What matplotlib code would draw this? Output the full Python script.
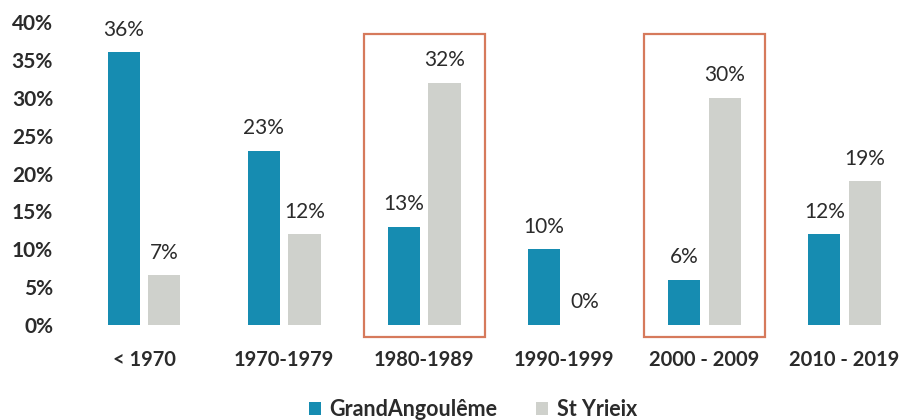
import matplotlib
matplotlib.use("Agg")
import numpy as np
from matplotlib import pyplot as plt
from matplotlib.patches import Rectangle

# data
periods = ["< 1970", "1970-1979", "1980-1989", "1990-1999", "2000 - 2009", "2010 - 2019"]
grand_angouleme = [36, 23, 13, 10, 6, 12]
st_yrieix = [6.6, 12, 32, 0, 30, 19]
series_names = ["GrandAngoulême", "St Yrieix"]
highlighted = ["1980-1989", "2000 - 2009"]
yticks = [0, 5, 10, 15, 20, 25, 30, 35, 40]

teal = "#168cb1"
grey = "#cfd1cc"
box_col = "#d67a5c"
txt = "#2b2b2b"

plt.rcParams['font.family'] = ['Lato', 'DejaVu Sans']

fig = plt.figure(figsize=(9.03, 4.2), dpi=100)
ax = fig.add_axes([60/903, 1-325/420, (895-60)/903, (325-22)/420])

x = np.arange(len(periods))
w = 0.23
off = 0.145
b1 = ax.bar(x - off, grand_angouleme, w, color=teal, label=series_names[0])
b2 = ax.bar(x + off, st_yrieix, w, color=grey, label=series_names[1])

for bars, vals in [(b1, grand_angouleme), (b2, st_yrieix)]:
    for r, v in zip(bars, vals):
        ax.annotate(f"{v:.0f}%", (r.get_x() + r.get_width()/2, r.get_height()),
                    xytext=(0, 9), textcoords="offset points",
                    ha="center", va="bottom", fontsize=15, color=txt)

# red frames round the highlighted periods
for p in highlighted:
    i = periods.index(p)
    ax.add_patch(Rectangle((i - 0.43, -1.6), 0.86, 40.0, fill=False,
                           edgecolor=box_col, lw=1.6, clip_on=False, zorder=5))

ax.set_xlim(-0.6, 5.36)
ax.set_ylim(0, 40)
ax.set_xticks(x)
ax.set_xticklabels(periods, fontsize=14.5, fontweight="bold", color=txt)
ax.set_yticks(yticks)
ax.set_yticklabels([f"{t}%" for t in yticks], fontsize=15, fontweight="bold", color=txt)
ax.tick_params(axis="x", length=0, pad=18)
ax.tick_params(axis="y", length=0, pad=5)
for s in ax.spines.values():
    s.set_visible(False)

fig.legend(loc="center", bbox_to_anchor=(0.524, 0.024), ncol=2, frameon=False,
           handlelength=0.55, handleheight=0.55, handletextpad=0.4, columnspacing=1.8,
           prop={"weight": "bold", "size": 15.5}, labelcolor=txt)

fig.savefig("out.png", dpi=100)
